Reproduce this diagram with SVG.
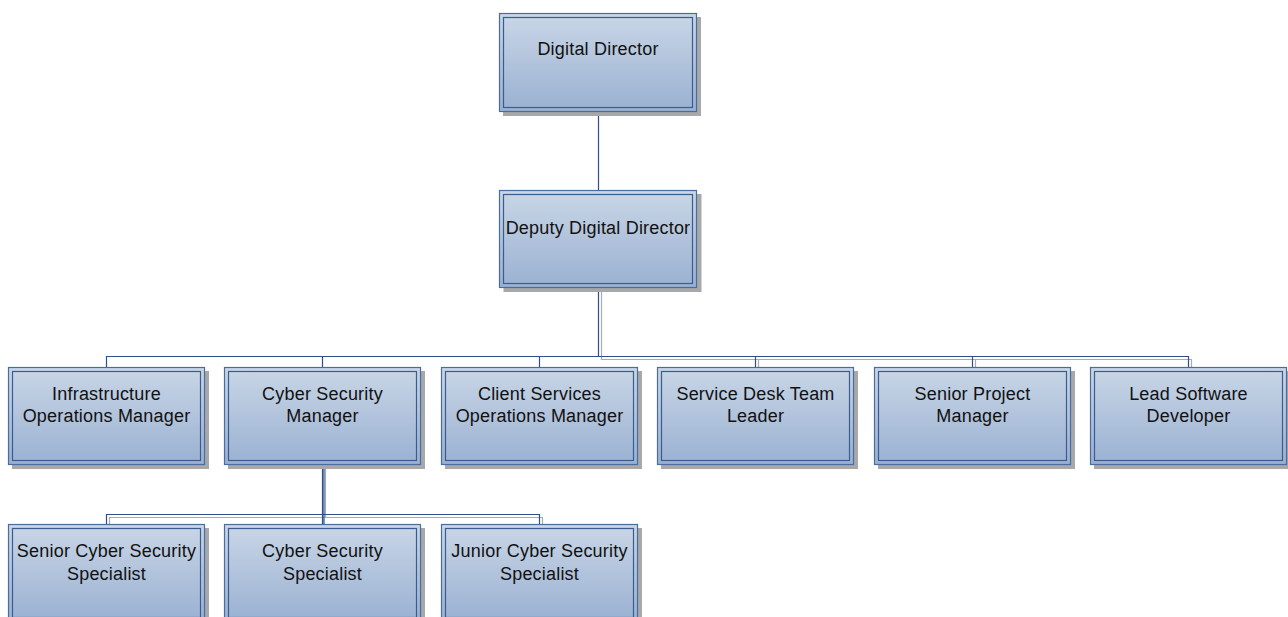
<svg xmlns="http://www.w3.org/2000/svg" width="1288" height="617" viewBox="0 0 1288 617">
<defs>
<linearGradient id="g" x1="0" y1="0" x2="0" y2="1">
<stop offset="0" stop-color="#C9D6E6"/>
<stop offset="1" stop-color="#9AB1D2"/>
</linearGradient>
<style>
.sh{fill:#A8A8A8}
.bx{fill:url(#g);stroke:#4A6C9E;stroke-width:1.2}
.in{fill:none;stroke:#3A5C90;stroke-width:1.2}
.t{font-family:"Liberation Sans",Arial,sans-serif;font-size:18px;letter-spacing:0.2px;fill:#111;text-anchor:middle}
.c{fill:none;stroke:#2E5088;stroke-width:1.2}
.cs{fill:none;stroke:#ABABAB;stroke-width:1.2}
</style>
</defs>
<rect width="1288" height="617" fill="#fff"/>
<g id="connectors">
<path class="cs" d="M601.5 291 V359.5 H1191.5 V367 M758.5 359.5 V367 M975.5 359.5 V367"/>
<path class="cs" d="M325.5 468 V517.5 M109.5 524 V517.5 H542.5 V524"/>
<path class="c" d="M598.5 112 V190"/>
<path class="c" d="M598.5 288 V356.5 M106.5 367 V356.5 H1188.5 V367 M322.5 356.5 V367 M539.5 356.5 V367 M755.5 356.5 V367 M972.5 356.5 V367"/>
<path class="c" d="M322.5 465 V524 M324 465 V524 M106.5 524 V514.5 H539.5 V524"/>
</g>
<g id="n-digital-director">
<rect class="sh" x="503" y="17" width="198" height="99"/>
<rect class="bx" x="499.5" y="13.5" width="197" height="98"/>
<rect class="in" x="503.5" y="17.5" width="189" height="90"/>
<text class="t" x="598" y="55">Digital Director</text>
</g>
<g id="n-deputy">
<rect class="sh" x="503.5" y="194" width="198" height="98"/>
<rect class="bx" x="499.5" y="190.5" width="197" height="97"/>
<rect class="in" x="503.5" y="194.5" width="189" height="89"/>
<text class="t" x="598" y="234">Deputy Digital Director</text>
</g>
<g id="n-infra">
<rect class="sh" x="12" y="371" width="197" height="98"/>
<rect class="bx" x="8.5" y="367.5" width="196" height="97"/>
<rect class="in" x="12.5" y="371.5" width="188" height="89"/>
<text class="t" x="106.5" y="400">Infrastructure</text>
<text class="t" x="106.5" y="422">Operations Manager</text>
</g>
<g id="n-cyber-mgr">
<rect class="sh" x="228" y="371" width="197" height="98"/>
<rect class="bx" x="224.5" y="367.5" width="196" height="97"/>
<rect class="in" x="228.5" y="371.5" width="188" height="89"/>
<text class="t" x="322.5" y="400">Cyber Security</text>
<text class="t" x="322.5" y="422">Manager</text>
</g>
<g id="n-client">
<rect class="sh" x="445" y="371" width="197" height="98"/>
<rect class="bx" x="441.5" y="367.5" width="196" height="97"/>
<rect class="in" x="445.5" y="371.5" width="188" height="89"/>
<text class="t" x="539.5" y="400">Client Services</text>
<text class="t" x="539.5" y="422">Operations Manager</text>
</g>
<g id="n-servicedesk">
<rect class="sh" x="661" y="371" width="197" height="98"/>
<rect class="bx" x="657.5" y="367.5" width="196" height="97"/>
<rect class="in" x="661.5" y="371.5" width="188" height="89"/>
<text class="t" x="755.5" y="400">Service Desk Team</text>
<text class="t" x="755.5" y="422">Leader</text>
</g>
<g id="n-project">
<rect class="sh" x="878" y="371" width="197" height="98"/>
<rect class="bx" x="874.5" y="367.5" width="196" height="97"/>
<rect class="in" x="878.5" y="371.5" width="188" height="89"/>
<text class="t" x="972.5" y="400">Senior Project</text>
<text class="t" x="972.5" y="422">Manager</text>
</g>
<g id="n-software">
<rect class="sh" x="1094" y="371" width="197" height="98"/>
<rect class="bx" x="1090.5" y="367.5" width="196" height="97"/>
<rect class="in" x="1094.5" y="371.5" width="188" height="89"/>
<text class="t" x="1188.5" y="400">Lead Software</text>
<text class="t" x="1188.5" y="422">Developer</text>
</g>
<g id="n-senior-cyber">
<rect class="sh" x="12" y="528" width="197" height="98"/>
<rect class="bx" x="8.5" y="524.5" width="196" height="97"/>
<rect class="in" x="12.5" y="528.5" width="188" height="89"/>
<text class="t" x="106.5" y="557">Senior Cyber Security</text>
<text class="t" x="106.5" y="580">Specialist</text>
</g>
<g id="n-cyber-spec">
<rect class="sh" x="228" y="528" width="197" height="98"/>
<rect class="bx" x="224.5" y="524.5" width="196" height="97"/>
<rect class="in" x="228.5" y="528.5" width="188" height="89"/>
<text class="t" x="322.5" y="557">Cyber Security</text>
<text class="t" x="322.5" y="580">Specialist</text>
</g>
<g id="n-junior-cyber">
<rect class="sh" x="445" y="528" width="197" height="98"/>
<rect class="bx" x="441.5" y="524.5" width="196" height="97"/>
<rect class="in" x="445.5" y="528.5" width="188" height="89"/>
<text class="t" x="539.5" y="557">Junior Cyber Security</text>
<text class="t" x="539.5" y="580">Specialist</text>
</g>
</svg>
